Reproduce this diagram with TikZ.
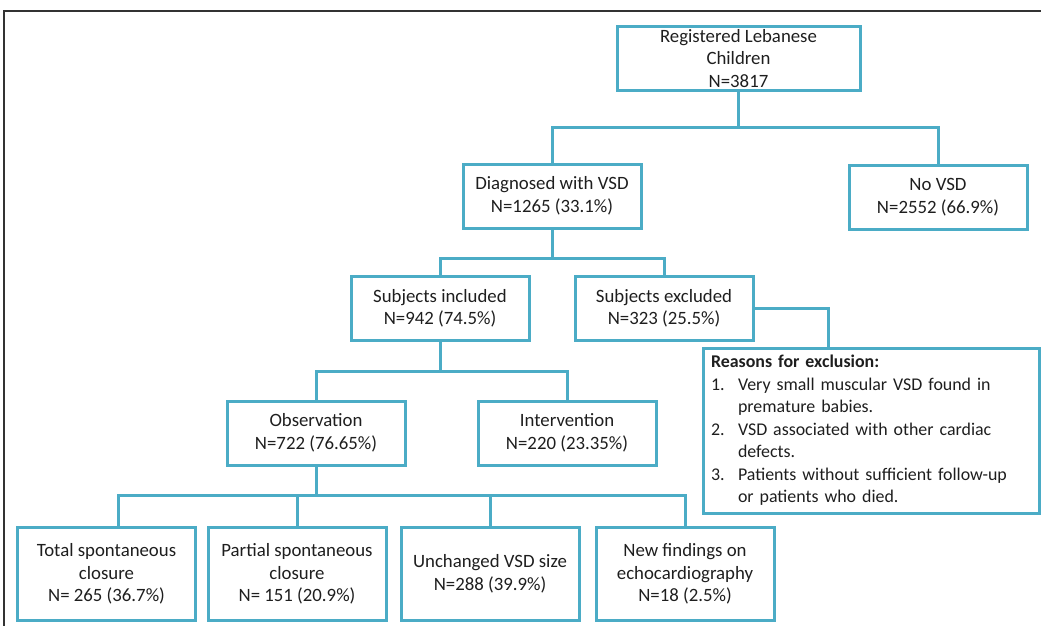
\documentclass[tikz,border=0pt]{standalone}
\usepackage{fontspec}
\setmainfont{Carlito}
\usetikzlibrary{positioning}

\definecolor{vsdblue}{RGB}{75,172,198}
\definecolor{txt}{RGB}{30,30,30}
\newcommand\rsnitem[1]{\makebox[27pt][l]{#1}}

\begin{document}
\begin{tikzpicture}[x=1pt,y=-1pt,
box/.style={draw=vsdblue,line width=3pt,minimum width=178pt,minimum height=64pt,
    inner sep=0pt,align=center,text=txt,font=\fontsize{18.8}{22.5}\selectfont},
tall/.style={box,minimum height=93pt},
link/.style={draw=vsdblue,line width=3pt},
frame/.style={draw=black!80,line width=1.5pt}]

\useasboundingbox (0,0) rectangle (1041,626);
\draw[frame] (4,626) -- (4,11) -- (1041,11);

\node[box,minimum width=243pt] (root) at (738.5,58.5) {Registered Lebanese\\Children\\N=3817};
\node[box] (diag) at (552,196) {Diagnosed with VSD\\N=1265 (33.1\%)};
\node[box] (novsd) at (938,197) {No VSD\\N=2552 (66.9\%)};
\node[box] (incl) at (440,308.5) {Subjects included\\N=942 (74.5\%)};
\node[box] (excl) at (664,308.5) {Subjects excluded\\N=323 (25.5\%)};
\node[box] (obs) at (316,433) {Observation\\N=722 (76.65\%)};
\node[box] (intv) at (567,433) {Intervention\\N=220 (23.35\%)};
\node[tall] (tot) at (106.5,574) {Total spontaneous\\closure\\N= 265 (36.7\%)};
\node[tall] (part) at (297,574) {Partial spontaneous\\closure\\N= 151 (20.9\%)};
\node[tall] (unch) at (490,574) {Unchanged VSD size\\N=288 (39.9\%)};
\node[tall] (newf) at (685,574) {New findings on\\echocardiography\\N=18 (2.5\%)};
\node[box,minimum width=336pt,minimum height=165pt,text width=320pt,align=left,
    font=\fontsize{17.9}{22.5}\selectfont] (rsn) at (871,430.5)
{\textbf{Reasons for exclusion:}\\
\rsnitem{1.}Very small muscular VSD found in\\
\rsnitem{}premature babies.\\
\rsnitem{2.}VSD associated with other cardiac\\
\rsnitem{}defects.\\
\rsnitem{3.}Patients without sufficient follow-up\\
\rsnitem{}or patients who died.};

% junctions
\coordinate (j1) at (738.5,127);
\coordinate (j2) at (552,258);
\coordinate (j3) at (440,371);
\coordinate (j4) at (316,495);
\coordinate (j5) at (828,348);

\draw[link] (root.south) -- (j1);
\draw[link] (diag.north) |- (j1) -| (novsd.north);
\draw[link] (diag.south) -- (j2);
\draw[link] (incl.north) |- (j2) -| (excl.north);
\draw[link] (excl.east) -| (j5);
\draw[link] (incl.south) -- (j3);
\draw[link] (obs.north) |- (j3) -| (intv.north);
\draw[link] (obs.south) -- (j4);
\foreach \n/\dx in {tot/12,part/0,unch/0,newf/0}
\draw[link] (j4) -| ([xshift=\dx]\n.north);
\end{tikzpicture}
\end{document}
